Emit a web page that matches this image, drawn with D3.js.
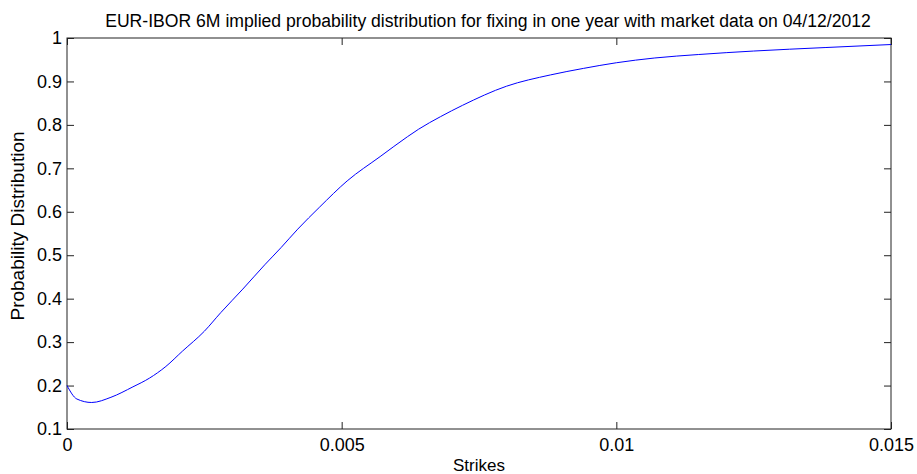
<!DOCTYPE html>
<html lang="en">
<head>
  <meta charset="UTF-8">
  <title>EUR-IBOR 6M implied probability distribution</title>
  <style>
    body { margin: 0; background: #fff; }
    text { font-family: "Liberation Sans", Arial, sans-serif; fill: #000; }
  </style>
</head>
<body>
  <script src="https://d3js.org/d3.v7.min.js"></script>
  <svg id="chart" width="917" height="474"></svg>
  <script>
    // values
    const strikes = [0, 0.00018, 0.00045, 0.0008, 0.0012, 0.0015, 0.0018, 0.0021, 0.0025, 0.0028,
      0.0032, 0.0036, 0.0039, 0.0042, 0.0046, 0.0051, 0.0057, 0.0062, 0.0064, 0.0068,
      0.0072, 0.0080, 0.0088, 0.0094, 0.0100, 0.0107, 0.0115, 0.0125, 0.0138, 0.0150];
    const probs = [0.200, 0.169, 0.161, 0.173, 0.197, 0.217, 0.244, 0.279, 0.325, 0.368,
      0.422, 0.478, 0.518, 0.560, 0.611, 0.671, 0.727, 0.773, 0.790, 0.819,
      0.845, 0.889, 0.915, 0.930, 0.943, 0.954, 0.962, 0.970, 0.978, 0.985];
    const xTicks = [0, 0.005, 0.01, 0.015];
    const yTicks = [0.1, 0.2, 0.3, 0.4, 0.5, 0.6, 0.7, 0.8, 0.9, 1];

    const margin = { top: 38, right: 26, bottom: 45, left: 67 };
    const width = 917 - margin.left - margin.right;
    const height = 474 - margin.top - margin.bottom;

    const svg = d3.select("svg#chart")
      .append("g")
      .attr("transform", "translate(" + margin.left + "," + margin.top + ")");

    const x = d3.scaleLinear().domain([0, 0.015]).range([0, width]);
    const y = d3.scaleLinear().domain([0.1, 1]).range([height, 0]);

    const data = strikes.map((s, i) => ({ s: s, p: probs[i] }));

    // box
    svg.append("rect")
      .attr("width", width).attr("height", height)
      .attr("fill", "none").attr("stroke", "#222").attr("stroke-width", 1);

    // ticks on all four sides, pointing inward
    function styleAxis(g) {
      g.select(".domain").remove();
      g.selectAll("line").attr("stroke", "#222");
      g.selectAll("text").style("font-size", "18px").attr("fill", "#000");
    }
    svg.append("g")
      .attr("transform", "translate(0," + height + ")")
      .call(d3.axisBottom(x).tickValues(xTicks).tickSizeInner(-7).tickPadding(9)
        .tickFormat(d => d === 0 ? "0" : String(d)))
      .call(styleAxis);
    svg.append("g")
      .call(d3.axisTop(x).tickValues(xTicks).tickSizeInner(-7).tickFormat(""))
      .call(styleAxis);
    svg.append("g")
      .call(d3.axisLeft(y).tickValues(yTicks).tickSizeInner(-7).tickPadding(5)
        .tickFormat(d => d === 1 ? "1" : d3.format(".1f")(d)))
      .call(styleAxis);
    svg.append("g")
      .attr("transform", "translate(" + width + ",0)")
      .call(d3.axisRight(y).tickValues(yTicks).tickSizeInner(-7).tickFormat(""))
      .call(styleAxis);

    // the curve
    svg.append("path")
      .datum(data)
      .attr("fill", "none")
      .attr("stroke", "#0000ff")
      .attr("stroke-width", 1)
      .attr("d", d3.line().x(d => x(d.s)).y(d => y(d.p)).curve(d3.curveMonotoneX));

    // title
    svg.append("text")
      .attr("x", width / 2 + 9)
      .attr("y", -11)
      .attr("text-anchor", "middle")
      .style("font-size", "17.6px")
      .text("EUR-IBOR 6M implied probability distribution for fixing in one year with market data on 04/12/2012");

    // axis labels
    svg.append("text")
      .attr("x", width / 2)
      .attr("y", height + 42)
      .attr("text-anchor", "middle")
      .style("font-size", "17px")
      .text("Strikes");

    svg.append("text")
      .attr("transform", "rotate(-90)")
      .attr("x", -(226 - margin.top))
      .attr("y", -43)
      .attr("text-anchor", "middle")
      .style("font-size", "19px")
      .text("Probability Distribution");
  </script>
</body>
</html>
